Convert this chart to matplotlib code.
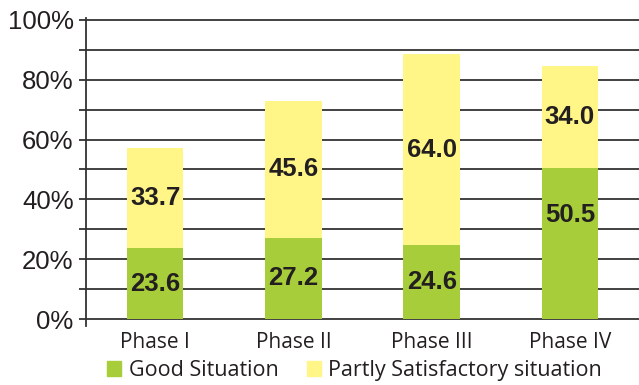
import matplotlib
matplotlib.use("Agg")
import matplotlib.pyplot as plt
from matplotlib.patches import Patch

phases = ["Phase I", "Phase II", "Phase III", "Phase IV"]
good = [23.6, 27.2, 24.6, 50.5]
partly = [33.7, 45.6, 64.0, 34.0]
series_names = ["Good Situation", "Partly Satisfactory situation"]
yticks = [0, 20, 40, 60, 80, 100]

green = "#A7CE3A"
yellow = "#FFF687"
ink = "#231F20"

fig = plt.figure(figsize=(6.39, 3.85), dpi=100)
ax = fig.add_axes([0.1346, 0.152, 0.8654, 0.800])

x = list(range(len(phases)))
w = 0.41
ax.set_axisbelow(True)
ax.bar(x, good, width=w, color=green, zorder=2)
ax.bar(x, partly, width=w, bottom=good, color=yellow, zorder=2)

for i in x:
    gy = good[i] / 2 if good[i] < 40 else good[i] * 0.69
    ax.text(i, gy, f"{good[i]:.1f}", ha="center", va="center",
            fontsize=18.5, fontweight="bold", color=ink,
            family="Liberation Sans", zorder=3)
    ax.text(i, good[i] + partly[i] / 2, f"{partly[i]:.1f}", ha="center",
            va="center", fontsize=18.5, fontweight="bold", color=ink,
            family="Liberation Sans", zorder=3)

ax.set_xlim(-0.5, 3.5)
ax.set_ylim(-2.5, 100.5)
ax.set_yticks(range(0, 101, 10))
ax.set_yticklabels([f"{v}%" if v in yticks else "" for v in range(0, 101, 10)],
                   family="Liberation Sans", fontsize=18.5, color=ink)
ax.yaxis.grid(True, color="#333333", linewidth=1.3)
ax.tick_params(axis="y", length=5, width=1.3, color="#333333", pad=4)
ax.set_xticks(x)
ax.set_xticklabels(phases, family="Open Sans", fontsize=15, color=ink)
ax.tick_params(axis="x", length=0, pad=4)

for s in ["top", "right", "bottom"]:
    ax.spines[s].set_visible(False)
ax.spines["left"].set_color("#333333")
ax.spines["left"].set_linewidth(1.3)

handles = [Patch(color=green), Patch(color=yellow)]
fig.legend(handles, series_names, loc="lower center", ncol=2,
           bbox_to_anchor=(0.555, -0.04), frameon=False,
           prop={"family": "Open Sans", "size": 15.5},
           handlelength=0.65, handleheight=0.65, handletextpad=0.35,
           columnspacing=1.3, labelcolor=ink)

fig.savefig("out.png", dpi=100)
